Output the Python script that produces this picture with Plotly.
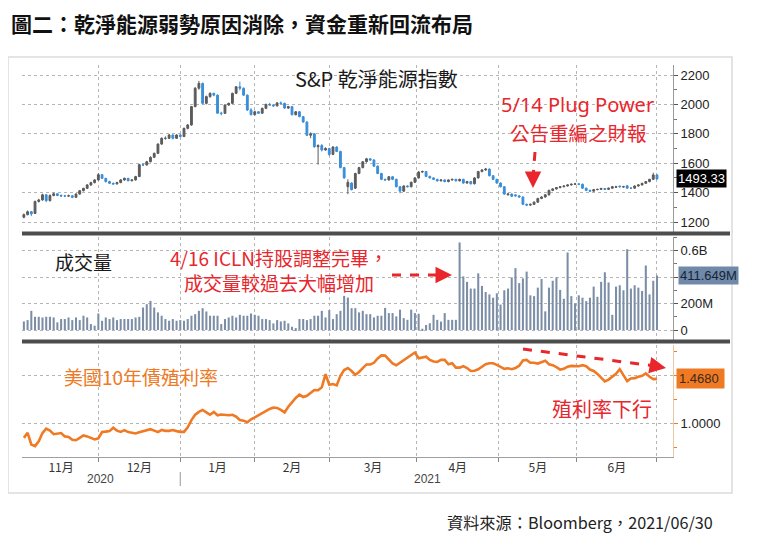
import plotly.graph_objects as go

# ---- data, one value per trading day ----
opens = [1232, 1250, 1270, 1258, 1340, 1350, 1385, 1345, 1380, 1392, 1380, 1377, 1377, 1378, 1368, 1390, 1413, 1429, 1452, 1468,
         1486, 1522, 1497, 1475, 1463, 1459, 1468, 1486, 1497, 1481, 1486, 1509, 1590, 1588, 1610, 1640, 1667, 1730, 1769, 1769,
         1792, 1769, 1792, 1781, 1837, 1860, 1985, 2110, 2143, 2007, 2053, 2075, 2063, 1940, 1939, 1996, 2007, 2075, 2120, 2110,
         2063, 1962, 1930, 1950, 1940, 1973, 2000, 1996, 1990, 2010, 2007, 1975, 1985, 1930, 1950, 1917, 1880, 1790, 1800, 1712,
         1720, 1690, 1700, 1660, 1710, 1680, 1570, 1440, 1465, 1430, 1530, 1570, 1610, 1630, 1622, 1580, 1530, 1490, 1486, 1508,
         1490, 1440, 1410, 1445, 1440, 1470, 1500, 1540, 1543, 1510, 1500, 1490, 1480, 1486, 1475, 1486, 1490, 1480, 1490, 1465,
         1475, 1460, 1500, 1543, 1554, 1560, 1515, 1490, 1465, 1440, 1385, 1390, 1385, 1378, 1370, 1320, 1315, 1320, 1335, 1360,
         1370, 1385, 1415, 1425, 1434, 1440, 1445, 1452, 1457, 1459, 1457, 1430, 1415, 1410, 1420, 1422, 1428, 1422, 1430, 1436,
         1444, 1438, 1446, 1430, 1430, 1445, 1452, 1463, 1475, 1490, 1520]
highs = [1258, 1278, 1275, 1345, 1358, 1392, 1390, 1388, 1400, 1396, 1388, 1385, 1386, 1382, 1395, 1418, 1433, 1458, 1474, 1492,
         1532, 1526, 1500, 1480, 1468, 1474, 1492, 1502, 1500, 1492, 1514, 1596, 1600, 1616, 1646, 1672, 1735, 1776, 1782, 1798,
         1796, 1797, 1800, 1842, 1866, 1990, 2118, 2160, 2148, 2060, 2082, 2080, 2068, 1950, 2000, 2012, 2080, 2125, 2155, 2115,
         2068, 1975, 1958, 1955, 1978, 2005, 2010, 2002, 2016, 2020, 2012, 1990, 1988, 1955, 1955, 1920, 1885, 1810, 1805, 1728,
         1730, 1708, 1705, 1716, 1715, 1685, 1575, 1490, 1470, 1535, 1575, 1615, 1636, 1634, 1626, 1585, 1535, 1495, 1512, 1512,
         1495, 1445, 1450, 1450, 1475, 1505, 1546, 1550, 1546, 1515, 1504, 1494, 1490, 1490, 1490, 1495, 1494, 1495, 1494, 1480,
         1478, 1505, 1548, 1560, 1568, 1564, 1518, 1494, 1470, 1444, 1398, 1395, 1385, 1382, 1374, 1325, 1326, 1340, 1365, 1375,
         1390, 1420, 1430, 1438, 1444, 1449, 1456, 1461, 1466, 1463, 1461, 1434, 1420, 1425, 1426, 1432, 1430, 1434, 1445, 1446,
         1448, 1446, 1450, 1436, 1449, 1456, 1467, 1479, 1494, 1535, 1524]
lows = [1225, 1245, 1240, 1255, 1332, 1345, 1335, 1340, 1375, 1376, 1370, 1370, 1370, 1362, 1365, 1386, 1408, 1425, 1446, 1462,
        1482, 1492, 1468, 1458, 1452, 1455, 1464, 1480, 1476, 1476, 1482, 1505, 1580, 1584, 1606, 1635, 1662, 1725, 1760, 1764,
        1762, 1765, 1775, 1778, 1830, 1855, 1980, 2100, 2000, 2000, 2045, 2055, 1935, 1925, 1935, 1990, 2002, 2070, 2095, 2058,
        1955, 1925, 1925, 1935, 1935, 1968, 1990, 1985, 1985, 2000, 1970, 1968, 1925, 1925, 1912, 1875, 1785, 1770, 1705, 1590,
        1680, 1685, 1650, 1655, 1675, 1565, 1495, 1390, 1415, 1425, 1525, 1565, 1604, 1615, 1575, 1525, 1485, 1480, 1482, 1485,
        1435, 1395, 1405, 1435, 1435, 1465, 1495, 1535, 1505, 1495, 1485, 1475, 1476, 1470, 1470, 1482, 1476, 1476, 1460, 1460,
        1455, 1456, 1495, 1538, 1548, 1510, 1485, 1460, 1435, 1385, 1380, 1370, 1372, 1365, 1315, 1308, 1310, 1316, 1330, 1355,
        1365, 1380, 1410, 1420, 1430, 1436, 1441, 1448, 1453, 1450, 1425, 1410, 1405, 1406, 1416, 1418, 1418, 1418, 1426, 1432,
        1434, 1434, 1426, 1424, 1426, 1440, 1448, 1459, 1470, 1486, 1488]
closes = [1250, 1270, 1255, 1340, 1350, 1385, 1345, 1380, 1392, 1380, 1377, 1377, 1378, 1368, 1390, 1413, 1429, 1452, 1468, 1486,
          1522, 1497, 1475, 1463, 1459, 1468, 1486, 1497, 1481, 1486, 1509, 1590, 1588, 1610, 1640, 1667, 1730, 1769, 1769, 1792,
          1769, 1792, 1781, 1837, 1860, 1985, 2110, 2143, 2007, 2053, 2075, 2063, 1940, 1939, 1996, 2007, 2075, 2120, 2110, 2063,
          1962, 1930, 1950, 1940, 1973, 2000, 1996, 1990, 2010, 2007, 1975, 1985, 1930, 1950, 1917, 1880, 1790, 1800, 1712, 1720,
          1690, 1700, 1660, 1710, 1680, 1570, 1500, 1470, 1420, 1530, 1570, 1610, 1630, 1622, 1580, 1530, 1490, 1486, 1508, 1490,
          1440, 1410, 1445, 1440, 1470, 1500, 1540, 1543, 1510, 1500, 1490, 1480, 1486, 1475, 1486, 1490, 1480, 1490, 1465, 1475,
          1460, 1500, 1543, 1554, 1560, 1515, 1490, 1465, 1440, 1390, 1390, 1375, 1378, 1370, 1320, 1315, 1320, 1335, 1360, 1370,
          1385, 1415, 1425, 1434, 1440, 1445, 1452, 1457, 1459, 1457, 1430, 1415, 1410, 1420, 1422, 1428, 1422, 1430, 1440, 1440,
          1440, 1440, 1430, 1430, 1445, 1452, 1463, 1475, 1490, 1520, 1493.33]

# volume in millions of shares
volume_m = [65, 75, 145, 100, 100, 95, 100, 100, 95, 58, 83, 83, 95, 75, 95, 75, 108, 95, 45, 33,
            125, 70, 95, 83, 95, 75, 83, 83, 83, 83, 95, 100, 170, 195, 220, 170, 133, 108, 83, 70,
            83, 70, 75, 70, 83, 108, 120, 145, 165, 140, 108, 108, 108, 45, 83, 95, 108, 95,
            115, 108, 108, 125, 115, 108, 83, 83, 75, 50, 75, 65, 70, 50, 25, 15, 83, 83, 75, 83,
            108, 108, 145, 95, 150, 83, 120, 145, 258, 245, 165, 165, 133, 145, 120, 120, 95, 108, 108,
            167, 128, 128, 103, 154, 90, 77, 154, 128, 123, 10, 38, 51, 115, 77, 64, 128, 77, 77, 77,
            661, 405, 364, 313, 313, 428, 333, 287, 269, 244, 277, 192, 300, 313, 397, 467, 354, 390, 441, 262,
            256, 320, 385, 141, 320, 372, 397, 303, 236, 585, 256, 200, 262, 244, 218, 244, 328, 251, 364, 436,
            359, 115, 328, 338, 300, 610, 313, 338, 320, 295, 487, 269, 372, 411.649]

# US 10Y treasury yield (%)
yield_10y = [0.855, 0.907, 0.786, 0.769, 0.82, 0.905, 0.95, 0.93, 0.893, 0.897, 0.905, 0.87, 0.865, 0.835, 0.83, 0.855,
             0.88, 0.87, 0.855, 0.838, 0.85, 0.915, 0.92, 0.925, 0.96, 0.93, 0.917, 0.935, 0.915, 0.905, 0.9, 0.912,
             0.922, 0.93, 0.945, 0.93, 0.915, 0.937, 0.928, 0.928, 0.936, 0.925, 0.917, 0.917, 0.965, 1.04, 1.095, 1.125,
             1.145, 1.12, 1.095, 1.124, 1.09, 1.097, 1.092, 1.09, 1.095, 1.075, 1.04, 1.034, 1.017, 1.048, 1.068, 1.09,
             1.115, 1.135, 1.155, 1.17, 1.166, 1.145, 1.12, 1.178, 1.225, 1.27, 1.305, 1.28, 1.293, 1.322, 1.352, 1.35,
             1.38, 1.517, 1.407, 1.415, 1.4, 1.5, 1.56, 1.58, 1.55, 1.51, 1.54, 1.58, 1.618, 1.617, 1.635, 1.68,
             1.712, 1.71, 1.672, 1.628, 1.61, 1.635, 1.662, 1.69, 1.71, 1.742, 1.683, 1.69, 1.698, 1.665, 1.648, 1.645,
             1.665, 1.665, 1.62, 1.631, 1.585, 1.585, 1.60, 1.58, 1.55, 1.553, 1.567, 1.594, 1.62, 1.63, 1.63, 1.613,
             1.59, 1.572, 1.578, 1.569, 1.58, 1.605, 1.66, 1.665, 1.635, 1.636, 1.627, 1.638, 1.657, 1.62, 1.61, 1.59,
             1.565, 1.572, 1.595, 1.603, 1.603, 1.60, 1.61, 1.60, 1.565, 1.55, 1.52, 1.48, 1.441, 1.46, 1.487, 1.52,
             1.569, 1.505, 1.445, 1.473, 1.476, 1.49, 1.50, 1.525, 1.49, 1.466, 1.468]

days = list(range(len(closes)))
month_labels = ['11月', '12月', '1月', '2月', '3月', '4月', '5月', '6月']
month_ends = [20, 42, 62, 82, 105.5, 127.5, 148.5, 170]   # index where each month stops
month_mid = [(a + b) / 2 for a, b in zip([0] + month_ends[:-1], month_ends)]

CJK = 'Noto Sans CJK TC'
LATIN = 'Noto Sans, Noto Sans CJK TC'
NUM = 'Liberation Sans Narrow, Liberation Sans, Arial'
RED = '#e8262c'
ORANGE = '#f07a24'
GRID = '#b5b5b5'

fig = go.Figure()
fig.add_trace(go.Candlestick(
    x=days, open=opens, high=highs, low=lows, close=closes,
    increasing=dict(line=dict(color='#5b5b5b', width=1), fillcolor='#5b5b5b'),
    decreasing=dict(line=dict(color='#3a8ed8', width=1), fillcolor='#3a8ed8'),
    whiskerwidth=0, xaxis='x', yaxis='y', showlegend=False))
fig.add_trace(go.Bar(
    x=days, y=[v * 1e6 for v in volume_m], marker_color='#7b8ea6',
    marker_line_width=0, width=0.55, xaxis='x', yaxis='y2', showlegend=False))
fig.add_trace(go.Scatter(
    x=days, y=yield_10y, mode='lines', line=dict(color=ORANGE, width=2.6),
    xaxis='x', yaxis='y3', showlegend=False))


def px(x, y):
    # page pixel -> paper coords (plot area 22..673 x 65..457 on the page)
    return (x - 22) / 651, (457 - y) / 392


def dashed_arrow(x0, y0, x1, y1, hx, hy):
    a0, b0 = px(x0, y0)
    a1, b1 = px(x1, y1)
    fig.add_shape(type='line', xref='paper', yref='paper', x0=a0, y0=b0, x1=a1, y1=b1,
                  line=dict(color=RED, width=3, dash='dash'))
    c, d = px(hx, hy)
    fig.add_annotation(xref='paper', yref='paper', x=c, y=d, ax=x1 - hx, ay=y1 - hy, text='',
                       showarrow=True, arrowhead=2, arrowsize=1.1, arrowwidth=3, arrowcolor=RED)


def label(text, x, y, size, color, anchor='left', bold=False, family=CJK):
    a, b = px(x, y)
    if bold:
        text = '<b>' + text + '</b>'
    fig.add_annotation(xref='paper', yref='paper', x=a, y=b, xanchor=anchor, yanchor='middle',
                       text=text, showarrow=False, align='center',
                       font=dict(family=family, size=size, color=color))


# frame and panel separators
f0, g0 = px(8, 493)
f1, g1 = px(732, 57)
fig.add_shape(type='rect', xref='paper', yref='paper', x0=f0, y0=g0, x1=f1, y1=g1,
              line=dict(color='#dcdcdc', width=1.5), layer='below')
for sy in [233.5, 341.5]:
    _, b = px(0, sy)
    fig.add_shape(type='line', xref='paper', yref='paper', x0=0, x1=px(730, 0)[0], y0=b, y1=b,
                  line=dict(color='#4d4d4d', width=4))

# year labels under the month axis
for yr, pos in [('2020', 20.6), ('2021', 108.3)]:
    fig.add_annotation(xref='x', yref='paper', x=pos, y=px(0, 479)[1], yanchor='middle', text=yr,
                       showarrow=False, font=dict(family=NUM, size=12, color='#444'))
fig.add_shape(type='line', xref='x', yref='paper', x0=month_ends[1], x1=month_ends[1],
              y0=px(0, 486)[1], y1=px(0, 472)[1], line=dict(color='#999', width=1))

# texts
label('圖二：乾淨能源弱勢原因消除，資金重新回流布局', 9, 23, 21, '#111', bold=True)
label('資料來源：Bloomberg，2021/06/30', 715, 522, 16.2, '#222', anchor='right')
label('S&P 乾淨能源指數', 376, 78, 20, '#1a1a1a', anchor='center')
label('5/14 Plug Power', 577, 104, 20, RED, anchor='center', family=LATIN)
label('公告重編之財報', 578, 132, 19.5, RED, anchor='center')
label('成交量', 83, 261, 19, '#1a1a1a', anchor='center')
label('4/16 ICLN持股調整完畢，<br>成交量較過去大幅增加', 279, 270, 19, RED, anchor='center')
label('美國10年債殖利率', 62, 376, 19, ORANGE)
label('殖利率下行', 550, 408, 20, RED)

dashed_arrow(535, 152, 533, 178, 533, 188)
dashed_arrow(392, 275, 442, 275, 452, 275)
dashed_arrow(523, 349, 655, 366, 666, 368)

# last value boxes on the right axis
fig.add_annotation(xref='paper', yref='y', x=px(676, 0)[0], y=closes[-1], xanchor='left', text='1493.33',
                   showarrow=False, bgcolor='#000000', borderpad=1,
                   font=dict(family=NUM, size=13, color='#ffffff'))
fig.add_annotation(xref='paper', yref='y2', x=px(678, 0)[0], y=volume_m[-1] * 1e6, xanchor='left',
                   text='411.649M', showarrow=False, bgcolor='#7189a8', borderpad=1,
                   font=dict(family=NUM, size=13, color='#14243a'))
fig.add_annotation(xref='paper', yref='y3', x=px(676, 0)[0], y=yield_10y[-1], xanchor='left',
                   text='1.4680 ', showarrow=False, bgcolor=ORANGE, borderpad=2,
                   font=dict(family=NUM, size=13, color='#3a2a1a'))

yaxis_common = dict(anchor='x', side='right', showline=True, linewidth=1, zeroline=False,
                    ticks='outside', ticklen=4, griddash='dot', gridwidth=1, gridcolor=GRID,
                    tickfont=dict(family=NUM, size=13, color='#222'), fixedrange=True)

# the page puts the figure 8px in from the top-left corner, so margins are 8px smaller
fig.update_layout(
    width=761, height=560,
    margin=dict(l=14, r=96, t=57, b=111),
    paper_bgcolor='white', plot_bgcolor='white',
    showlegend=False, bargap=0.4,
    xaxis=dict(anchor='y3', range=[-0.5, 174.3], rangeslider=dict(visible=False),
               tickmode='array', tickvals=month_mid, ticktext=month_labels, ticks='',
               showgrid=False, showline=True, linecolor='#a0a0a0', zeroline=False,
               tickfont=dict(family=CJK, size=12, color='#333'),
               minor=dict(tickmode='array', tickvals=month_ends, showgrid=True, griddash='dot',
                          gridcolor=GRID, gridwidth=1, ticks='outside', ticklen=4, tickcolor='#888')),
    yaxis=dict(domain=[0.574, 1.0], range=[1132, 2268], tickvals=[1200, 1400, 1600, 1800, 2000, 2200],
               linecolor='#9a9a9a', tickcolor='#555',
               minor=dict(dtick=100, ticks='outside', ticklen=3, tickcolor='#777', showgrid=False),
               **yaxis_common),
    yaxis2=dict(domain=[0.2985, 0.5612], range=[-75e6, 702e6], tickvals=[0, 200e6, 400e6, 600e6],
                ticktext=['0', '200M', '', '0.6B'], linecolor='#9a9a9a', tickcolor='#555',
                minor=dict(dtick=100e6, ticks='outside', ticklen=3, tickcolor='#777', showgrid=False),
                **yaxis_common),
    yaxis3=dict(domain=[0, 0.2857], range=[0.656, 1.82], tickvals=[1.0, 1.5], ticktext=['1.0000', ''],
                linecolor='#ecc7a6', tickcolor=ORANGE,
                minor=dict(tickvals=[0.75, 1.25, 1.75], ticks='outside', ticklen=3, tickcolor=ORANGE,
                           showgrid=False),
                **yaxis_common),
)

fig.write_html("out.html")
